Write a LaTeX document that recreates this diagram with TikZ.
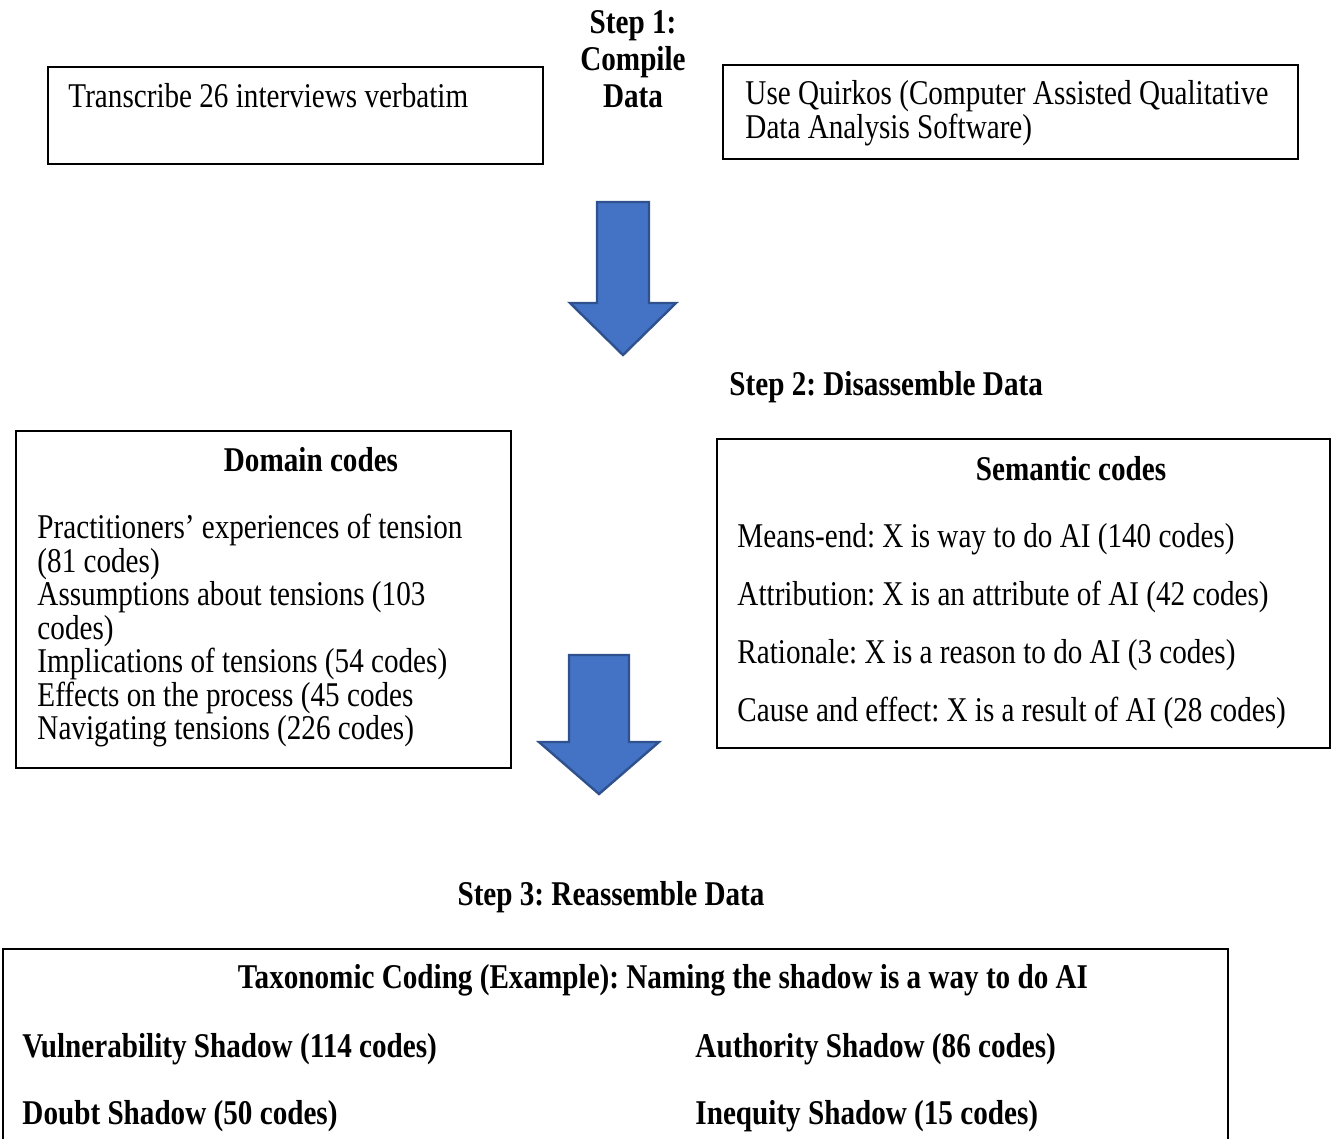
\documentclass[tikz,border=0pt]{standalone}
\usepackage{fontspec}
\setmainfont{Liberation Serif}[FakeStretch=0.84]
\frenchspacing
\usetikzlibrary{fit}
\definecolor{arrowfill}{HTML}{4472C4}
\definecolor{arrowline}{HTML}{2F528F}
\newcommand{\bodyfont}[1]{\fontsize{14.3}{#1}\selectfont}

\begin{document}
\begin{tikzpicture}[x=0.412pt,y=-0.412pt,
	frame/.style={draw,line width=0.8pt,inner sep=0pt},
	txt/.style={anchor=base west,inner sep=0pt,font=\bodyfont{14}},
	lines/.style={anchor=north west,inner sep=0pt,align=left},
	head/.style={anchor=base,inner sep=0pt,font=\bodyfont{14}\bfseries},
	blockarrow/.style={fill=arrowfill,draw=arrowline,line width=1pt,line join=miter}]
	\useasboundingbox (0,0) rectangle (1333,1138);
	% step 1
	\node[frame,fit={(48,67) (543,164)}] (transcribe) {};
	\node[frame,fit={(723,65) (1298,159)}] (quirkos) {};
	\node[txt] (transcribetxt) at (68,107) {Transcribe 26 interviews verbatim};
	\node[lines,font=\bodyfont{14}] (quirkostxt) at (745,80) {Use Quirkos (Computer Assisted Qualitative\\Data Analysis Software)};
	\node[anchor=north,inner sep=0pt,align=center,font=\bodyfont{15.2}\bfseries] (step1) at (633,10) {Step 1:\\Compile\\Data};
	\draw[blockarrow] (597,202) -- (649,202) -- (649,303) -- (676,303) -- (623,355) -- (570,303) -- (597,303) -- cycle;
	% step 2
	\node[txt,font=\bodyfont{14}\bfseries] (step2) at (729,395) {Step 2: Disassemble Data};
	\node[frame,fit={(16,431) (511,768)}] (domain) {};
	\node[head] (domainhd) at (311,471) {Domain codes};
	\node[lines,font=\bodyfont{13.8}] (domaintxt) at (37,514) {Practitioners’ experiences of tension\\(81 codes)\\Assumptions about tensions (103\\codes)\\Implications of tensions (54 codes)\\Effects on the process (45 codes\\Navigating tensions (226 codes)};
	\node[frame,fit={(717,439) (1330,748)}] (semantic) {};
	\node[head] (semantichd) at (1071,480) {Semantic codes};
	\node[lines,font=\bodyfont{23.9}] (semantictxt) at (737,523) {Means-end: X is way to do AI (140 codes)\\Attribution: X is an attribute of AI (42 codes)\\Rationale: X is a reason to do AI (3 codes)\\Cause and effect: X is a result of AI (28 codes)};
	\draw[blockarrow] (569,655) -- (629,655) -- (629,742) -- (659,742) -- (599,794) -- (539,742) -- (569,742) -- cycle;
	% step 3
	\node[head] (step3) at (611,905) {Step 3: Reassemble Data};
	\node[frame,fit={(3,949) (1228,1170)}] (taxonomic) {};
	\node[head] (taxonomichd) at (663,988) {Taxonomic Coding (Example): Naming the shadow is a way to do AI};
	\node[lines,font=\bodyfont{27.6}\bfseries] (leftcol) at (22,1033) {Vulnerability Shadow (114 codes)\\Doubt Shadow (50 codes)};
	\node[lines,font=\bodyfont{27.6}\bfseries] (rightcol) at (695,1033) {Authority Shadow (86 codes)\\Inequity Shadow (15 codes)};
\end{tikzpicture}
\end{document}
